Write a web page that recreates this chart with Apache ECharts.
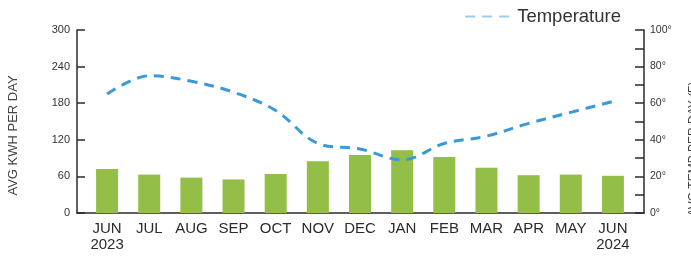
<!DOCTYPE html>
<html>
<head>
<meta charset="utf-8">
<script src="https://cdn.jsdelivr.net/npm/echarts@6/dist/echarts.min.js"></script>
<style>
  html, body { margin: 0; padding: 0; background: #fff; }
  #chart { width: 691px; height: 258px; }
</style>
</head>
<body>
<div id="chart"></div>
<script>
// data
var months = ['JUN\n2023', 'JUL', 'AUG', 'SEP', 'OCT', 'NOV', 'DEC', 'JAN', 'FEB', 'MAR', 'APR', 'MAY', 'JUN\n2024'];
var kwhPerDay = [72, 63, 58, 55, 64, 85, 95, 103, 92, 74, 62, 63, 61];
var tempPerDay = [65, 75, 72, 66, 56, 38, 35, 29, 38, 42, 49, 55, 61];
var kwhTicks = [0, 300, 60];   // min, max, step
var tempTicks = [0, 100, 10];

var myChart = echarts.init(document.getElementById('chart'));
var font = 'Liberation Sans, Arial, sans-serif';
var axisColor = '#2a2a2a';

option = {
    animation: false,
    textStyle: { fontFamily: font },
    legend: {
        data: ['Temperature'],
        right: 65,
        top: 2,
        itemWidth: 47,
        itemHeight: 10,
        itemGap: 10,
        textStyle: { fontSize: 18.5, color: '#333' },
        itemStyle: { opacity: 0 },
        lineStyle: { width: 2, opacity: 0.5 }
    },
    grid: [
        { left: 86, right: 57, top: 30, bottom: 45, outerBoundsMode: 'none', containLabel: false },   // data area
        { left: 77, right: 47, top: 30, bottom: 45, outerBoundsMode: 'none', containLabel: false }    // frame with the visible axes
    ],
    xAxis: [
        {
            type: 'category',
            gridIndex: 0,
            data: months,
            axisLine: { show: false },
            axisTick: { show: false },
            axisLabel: {
                interval: 0,
                margin: 8,
                fontSize: 15,
                lineHeight: 16,
                color: '#2b2b2b'
            }
        },
        {
            type: 'value',
            gridIndex: 1,
            min: 0,
            max: 1,
            axisLine: { show: true, lineStyle: { color: axisColor, width: 1.5 } },
            axisTick: { show: false },
            axisLabel: { show: false },
            splitLine: { show: false }
        }
    ],
    yAxis: [
        { type: 'value', gridIndex: 0, min: kwhTicks[0], max: kwhTicks[1], show: false },
        { type: 'value', gridIndex: 0, min: tempTicks[0], max: tempTicks[1], show: false },
        {
            type: 'value',
            gridIndex: 1,
            min: kwhTicks[0],
            max: kwhTicks[1],
            interval: kwhTicks[2],
            name: 'AVG KWH PER DAY',
            nameLocation: 'middle',
            nameGap: 57,
            nameRotate: 90,
            nameTextStyle: { fontSize: 13, color: '#444', padding: [0, 0, 0, -28] },
            axisLine: { show: true, lineStyle: { color: axisColor, width: 1.5 } },
            axisTick: { show: true, inside: true, length: 8, lineStyle: { color: axisColor, width: 1.5 } },
            axisLabel: { fontSize: 11, color: '#333', margin: 7 },
            splitLine: { show: false }
        },
        {
            type: 'value',
            gridIndex: 1,
            position: 'right',
            min: tempTicks[0],
            max: tempTicks[1],
            interval: tempTicks[2],
            name: 'AVG TEMP PER DAY (F)',
            nameLocation: 'middle',
            nameGap: 44,
            nameRotate: 90,
            nameTextStyle: { fontSize: 12, color: '#444', padding: [0, 0, 0, -55] },
            axisLine: { show: true, lineStyle: { color: axisColor, width: 1.5 } },
            axisTick: { show: true, inside: true, length: 9, lineStyle: { color: axisColor, width: 1.5 } },
            axisLabel: {
                fontSize: 10.5,
                color: '#333',
                margin: 6,
                formatter: function (value) {
                    return value % 20 === 0 ? value + '°' : '';
                }
            },
            splitLine: { show: false }
        }
    ],
    series: [
        {
            name: 'Usage',
            type: 'bar',
            xAxisIndex: 0,
            yAxisIndex: 0,
            barWidth: 22,
            itemStyle: { color: '#93be48' },
            data: kwhPerDay
        },
        {
            name: 'Temperature',
            type: 'line',
            xAxisIndex: 0,
            yAxisIndex: 1,
            smooth: 0.35,
            symbol: 'none',
            z: 3,
            lineStyle: { color: '#3a9ad8', width: 3, type: [10, 7] },
            itemStyle: { color: '#3a9ad8' },
            data: tempPerDay
        }
    ]
};
myChart.setOption(option);
</script>
</body>
</html>
